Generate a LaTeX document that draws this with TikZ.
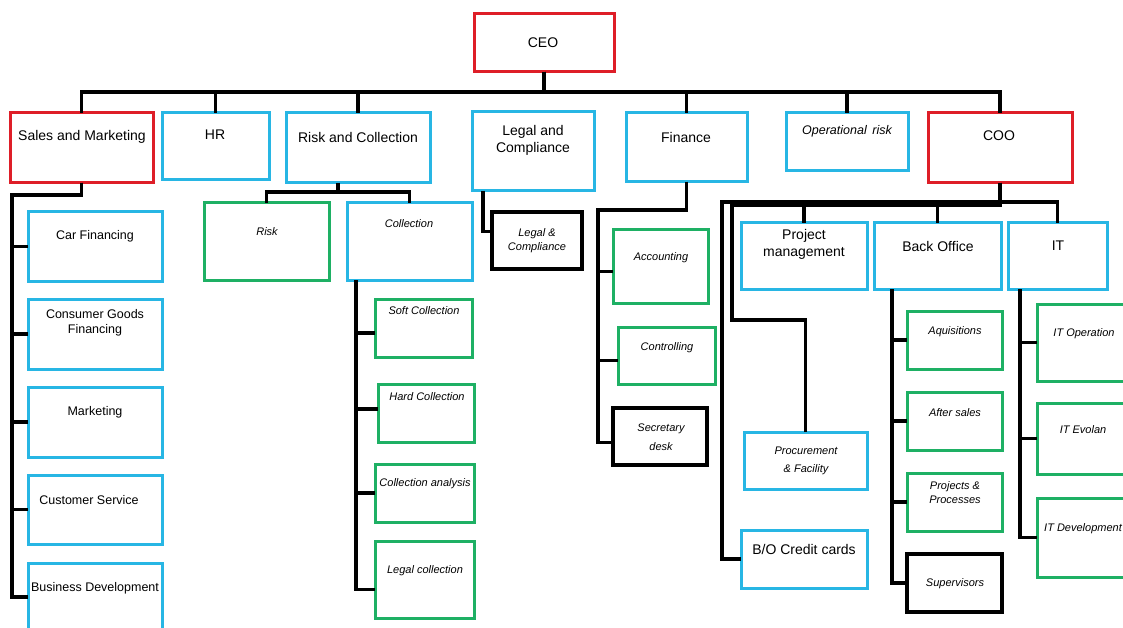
\documentclass[tikz,border=0pt]{standalone}
\usepackage{fontspec}
\setmainfont{Liberation Sans}
\definecolor{cred}{RGB}{222,30,40}
\definecolor{cblue}{RGB}{40,182,228}
\definecolor{cgreen}{RGB}{30,176,100}
\newcommand\obox[6]{\node[#2, minimum width={#5pt-#3pt}, minimum height={#6pt-#4pt}] (#1) at ({(#3+#5)/2},{(#4+#6)/2}) {};}
\begin{document}
\begin{tikzpicture}[x=1pt,y=-1pt,
 box/.style={draw,line width=3pt,inner sep=0pt,outer sep=0pt},
 rbox/.style={box,draw=cred}, bbox/.style={box,draw=cblue},
 gbox/.style={box,draw=cgreen}, kbox/.style={box,draw=black,line width=3.4pt},
 conn/.style={draw=black,line width=3.8pt,line join=miter},
 txt/.style={align=center,inner sep=0pt},
 tA/.style={txt,font=\fontsize{14}{17}\selectfont},
 tB/.style={txt,font=\fontsize{12.5}{15}\selectfont},
 tI/.style={txt,font=\fontsize{11}{14}\selectfont\itshape},
]
\fill[white] (0,0) rectangle (1123,628);
\useasboundingbox (0,0) rectangle (1123,628);

% level 1 and 2
\obox{ceo}{rbox}{474}{14}{614}{72}
\obox{sales}{rbox}{10}{113}{153}{183}
\obox{hr}{bbox}{162}{113}{269}{180}
\obox{rc}{bbox}{286}{113}{430}{183}
\obox{lac}{bbox}{472}{112}{594}{191}
\obox{fin}{bbox}{626}{113}{747}{182}
\obox{opr}{bbox}{786}{113}{908}{171}
\obox{coo}{rbox}{928}{113}{1072}{183}

% sales subtree
\obox{car}{bbox}{28}{212}{162}{281}
\obox{cgf}{bbox}{28}{299}{162}{369}
\obox{mkt}{bbox}{28}{387}{162}{457}
\obox{cs}{bbox}{28}{475}{162}{544}
\obox{bd}{bbox}{28}{563}{162}{645}

% risk and collection subtree
\obox{risk}{gbox}{204}{203}{329}{280}
\obox{coll}{bbox}{347}{203}{472}{280}
\obox{soft}{gbox}{375}{299}{472}{357}
\obox{hard}{gbox}{378}{384}{474}{442}
\obox{cana}{gbox}{375}{464}{474}{522}
\obox{lcol}{gbox}{375}{541}{474}{618}

% legal
\obox{lc}{kbox}{492}{212}{582}{269}

% finance
\obox{acc}{gbox}{613}{230}{708}{303}
\obox{ctrl}{gbox}{618}{327}{715}{384}
\obox{sec}{kbox}{613}{408}{707}{465}

% coo subtree
\obox{pm}{bbox}{741}{223}{867}{289}
\obox{bo}{bbox}{874}{223}{1001}{289}
\obox{it}{bbox}{1008}{223}{1107}{289}
\obox{proc}{bbox}{744}{432}{867}{489}
\obox{bocc}{bbox}{741}{530}{867}{588}
\obox{aqu}{gbox}{907}{311}{1002}{369}
\obox{afs}{gbox}{907}{392}{1002}{450}
\obox{pp}{gbox}{907}{473}{1002}{531}
\obox{sup}{kbox}{907}{554}{1002}{612}
\obox{ito}{gbox}{1037}{304}{1140}{381}
\obox{ite}{gbox}{1037}{403}{1140}{474}
\obox{itd}{gbox}{1037}{498}{1140}{577}

% connectors
\coordinate (busA) at (0,92);
\foreach \c in {sales,hr,rc,fin,opr,coo}
  \draw[conn] (ceo.south) |- (\c.north |- busA) -- (\c.north);

\coordinate (sL) at (12,195);
\draw[conn] (sales.south) |- (sL) |- (car.west);
\draw[conn] (sales.south) |- (sL) |- (cgf.west);
\draw[conn] (sales.south) |- (sL) |- (mkt.west);
\draw[conn] (sales.south) |- (sL) |- (cs.west);
\draw[conn] (sales.south) |- (sL) |- ([yshift=7pt]bd.west);

\coordinate (rcB) at (0,192);
\draw[conn] ([xshift=-20pt]rc.south) |- (risk.north |- rcB) -- (risk.north);
\draw[conn] ([xshift=-20pt]rc.south) |- (coll.north |- rcB) -- (coll.north);

\draw[conn] ([xshift=9pt]coll.south west) |- ([yshift=-5pt]soft.west);
\draw[conn] ([xshift=9pt]coll.south west) |- ([yshift=4pt]hard.west);
\draw[conn] ([xshift=9pt]coll.south west) |- (cana.west);
\draw[conn] ([xshift=9pt]coll.south west) |- ([yshift=-10pt]lcol.west);

\draw[conn] ([xshift=11pt]lac.south west) |- ([yshift=9pt]lc.west);

\coordinate (fL) at (598,210);
\draw[conn] (fin.south) |- (fL) |- ([yshift=-5pt]acc.west);
\draw[conn] (fin.south) |- (fL) |- ([yshift=-5pt]ctrl.west);
\draw[conn] (fin.south) |- (fL) |- ([yshift=-6pt]sec.west);

\coordinate (cB) at (0,202);
\foreach \c in {pm,bo,it}
  \draw[conn] (coo.south) |- (\c.north |- cB) -- (\c.north);
\coordinate (cL) at (722,202);
\draw[conn] (coo.south) |- (cL) |- (bocc.west);
\coordinate (cI) at (732,205);
\coordinate (pY) at (0,320);
\draw[conn] (coo.south) |- (cI) |- (proc.north |- pY) -- (proc.north);

\foreach \c in {aqu,afs,pp,sup}
  \draw[conn] ([xshift=18pt]bo.south west) |- (\c.west);
\foreach \c in {ito,ite,itd}
  \draw[conn] ([xshift=12pt]it.south west) |- (\c.west);

% texts
\node[tA] (t-ceo) at (543,43) {CEO};
\node[tA] (t-sales) at (82,137) {Sales and Marketing};
\node[tA] (t-hr) at (215,135) {HR};
\node[tA] (t-rc) at (358,137) {Risk and Collection};
\node[tA] (t-lac) at (533,140) {Legal and\\Compliance};
\node[tA] (t-fin) at (686,137) {Finance};
\node[txt,font=\fontsize{12.5}{15}\selectfont\itshape] (t-opr) at (847,131) {Operational\hspace{0.45em}risk};
\node[tA] (t-coo) at (999,136) {COO};

\node[tB] (t-car) at (95,236) {Car Financing};
\node[tB] (t-cgf) at (95,323) {Consumer Goods\\Financing};
\node[tB] (t-mkt) at (95,412) {Marketing};
\node[tB] (t-cs) at (89,500) {Customer Service};
\node[tB] (t-bd) at (95,588) {Business Development};

\node[tI] (t-risk) at (267,232) {Risk};
\node[tI] (t-coll) at (409,224) {Collection};
\node[tI] (t-soft) at (424,311) {Soft Collection};
\node[tI] (t-hard) at (427,397) {Hard Collection};
\node[tI] (t-cana) at (425,484) {Collection analysis};
\node[tI] (t-lcol) at (425,571) {Legal collection};
\node[txt,font=\fontsize{11}{14}\selectfont\itshape] (t-lc) at (537,241) {Legal \&\\Compliance};

\node[tI] (t-acc) at (661,258) {Accounting};
\node[tI] (t-ctrl) at (667,348) {Controlling};
\node[txt,font=\fontsize{11}{19}\selectfont\itshape] (t-sec) at (661,437) {Secretary\\desk};

\node[tA] (t-pm) at (804,244) {Project\\management};
\node[tA] (t-bo) at (938,246) {Back Office};
\node[tA] (t-it) at (1058,246) {IT};
\node[txt,font=\fontsize{11}{18}\selectfont\itshape] (t-proc) at (806,461) {Procurement\\\& Facility};
\node[tA] (t-bocc) at (804,549) {B/O Credit cards};

\node[tI] (t-aqu) at (955,332) {Aquisitions};
\node[tI] (t-afs) at (955,413) {After sales};
\node[tI] (t-pp) at (955,493) {Projects \&\\Processes};
\node[tI] (t-sup) at (955,584) {Supervisors};
\node[tI] (t-ito) at (1084,334) {IT Operation};
\node[tI] (t-ite) at (1083,430) {IT Evolan};
\node[tI] (t-itd) at (1083,529) {IT Development};
\end{tikzpicture}
\end{document}
